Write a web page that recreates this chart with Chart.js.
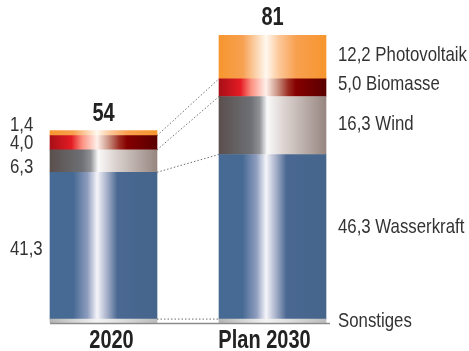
<!DOCTYPE html>
<html>
<head>
<meta charset="utf-8">
<script src="https://cdn.jsdelivr.net/npm/chart.js@4"></script>
<style>
  html, body { margin: 0; padding: 0; background: #fff; }
  #wrap { width: 469px; height: 351px; }
</style>
</head>
<body>
<div id="wrap"><canvas id="chart" width="469" height="351"></canvas></div>
<script>
const categories = ["2020", "Plan 2030"];
const seriesNames = ["Sonstiges", "Wasserkraft", "Wind", "Biomasse", "Photovoltaik"];
const sonstiges = [1.1, 1.1];
const wasserkraft = [41.3, 46.3];
const wind = [6.3, 16.3];
const biomasse = [4.0, 5.0];
const photovoltaik = [1.4, 12.2];

const seriesValues = [sonstiges, wasserkraft, wind, biomasse, photovoltaik];

// gradient stops per series (left -> right across the bar)
const gradients = [
    [[0, "#b4b4b4"], [0.44, "#f4f4f4"], [1, "#bcbcbc"]],
    [[0, "#476a94"], [0.22, "#476a94"], [0.35, "#8e9dbe"], [0.44, "#f5f5fa"], [0.53, "#a9b2cb"], [0.63, "#4a6892"], [1, "#45658b"]],
    [[0, "#5a4f4d"], [0.3, "#6e7075"], [0.38, "#909296"], [0.45, "#fafafa"], [0.6, "#ddd5d2"], [1, "#978680"]],
    [[0, "#a80f18"], [0.2, "#e31b23"], [0.3, "#fb9080"], [0.44, "#fff0ea"], [0.55, "#c89080"], [0.65, "#9c2a20"], [0.72, "#850000"], [1, "#5a0000"]],
    [[0, "#f7962f"], [0.22, "#f7a050"], [0.44, "#fff8f0"], [0.56, "#fcc89a"], [0.72, "#f8a050"], [1, "#f7962e"]]
];
const baseColors = ["#c0c0c0", "#476a94", "#808080", "#a01010", "#f7962f"];

const BAR_W = 107;
const FONT = "'Liberation Sans', Arial, sans-serif";
const SQUEEZE = 0.8; // fake a condensed face

// label nudges (px) so labels don't collide
const leftNudge = [0, 4, 6, 0, -8];
const rightNudge = [0, -10, -1, -3, -2];

function barGradient(ctx, i) {
    if (ctx.type !== "data" || !ctx.chart.chartArea) return baseColors[i];
    const cx = ctx.chart.scales.x.getPixelForValue(ctx.dataIndex);
    const g = ctx.chart.ctx.createLinearGradient(cx - BAR_W / 2, 0, cx + BAR_W / 2, 0);
    gradients[i].forEach(s => g.addColorStop(s[0], s[1]));
    return g;
}

function narrowText(c, txt, x, y) {
    c.save();
    c.translate(x, y);
    c.scale(SQUEEZE, 1);
    c.fillText(txt, 0, 0);
    c.restore();
}

const extras = {
    id: "extras",
    afterDatasetsDraw(chart) {
        const c = chart.ctx;
        const metas = seriesNames.map((n, i) => chart.getDatasetMeta(i));
        c.save();

        // baseline
        const b0 = metas[0].data[0], b1 = metas[0].data[1];
        c.strokeStyle = "#8c8c8c";
        c.lineWidth = 1.5;
        c.beginPath();
        c.moveTo(b0.x - BAR_W / 2, b0.base + 0.5);
        c.lineTo(b1.x + BAR_W / 2 + 4, b0.base + 0.5);
        c.stroke();

        // dotted connectors between segment tops
        c.strokeStyle = "#6f6f6f";
        c.lineWidth = 1;
        c.setLineDash([1.5, 2]);
        for (let i = 0; i < 4; i++) {
            const a = metas[i].data[0], b = metas[i].data[1];
            c.beginPath();
            c.moveTo(a.x + BAR_W / 2, a.y);
            c.lineTo(b.x - BAR_W / 2, b.y);
            c.stroke();
        }
        c.setLineDash([]);

        // value labels
        c.fillStyle = "#333";
        c.font = "21px " + FONT;
        c.textBaseline = "middle";
        c.textAlign = "left";
        for (let i = 1; i < seriesNames.length; i++) {
            const el = metas[i].data[0];
            const v = seriesValues[i][0].toFixed(1).replace(".", ",");
            narrowText(c, v, 10, (el.y + el.base) / 2 + leftNudge[i]);
        }
        for (let i = 0; i < seriesNames.length; i++) {
            const el = metas[i].data[1];
            const txt = i === 0 ? seriesNames[i] : seriesValues[i][1].toFixed(1).replace(".", ",") + " " + seriesNames[i];
            narrowText(c, txt, el.x + BAR_W / 2 + 12, (el.y + el.base) / 2 + rightNudge[i]);
        }

        // totals and category labels
        c.fillStyle = "#222";
        c.font = "bold 25px " + FONT;
        c.textAlign = "center";
        c.textBaseline = "alphabetic";
        const catNudge = [8, -8];
        categories.forEach((cat, j) => {
            const top = metas[seriesNames.length - 1].data[j];
            const total = Math.round(seriesValues.reduce((s, arr) => s + arr[j], 0));
            narrowText(c, String(total), top.x, top.y - 10);
            narrowText(c, cat, top.x + catNudge[j], 348);
        });
        c.restore();
    }
};

new Chart(document.getElementById("chart"), {
    type: "bar",
    data: {
        labels: categories,
        datasets: seriesNames.map((name, i) => ({
            label: name,
            data: seriesValues[i],
            backgroundColor: ctx => barGradient(ctx, i),
            borderWidth: 0,
            barThickness: BAR_W
        }))
    },
    options: {
        responsive: false,
        animation: false,
        layout: { padding: { left: 19, right: 112, top: 3, bottom: 28 } },
        plugins: { legend: { display: false }, tooltip: { enabled: false } },
        scales: {
            x: { stacked: true, display: false },
            y: { stacked: true, display: false, min: 0, max: 90 }
        }
    },
    plugins: [extras]
});
</script>
</body>
</html>
